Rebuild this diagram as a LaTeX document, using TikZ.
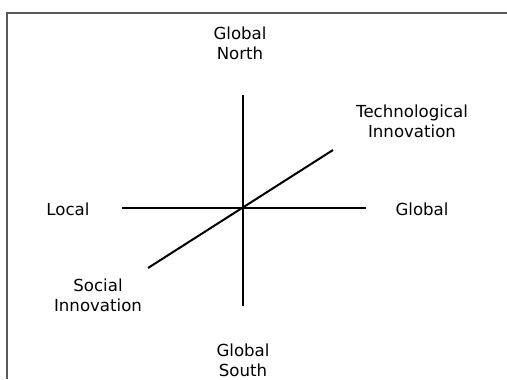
\documentclass[tikz,border=0pt]{standalone}
\usepackage{fontspec}
\setmainfont{DejaVu Sans}
\usepackage{tikz}
\usetikzlibrary{positioning}
\tikzset{
  axislabel/.style={font=\fontsize{8.3}{10}\selectfont,align=center,inner sep=0pt},
  axis/.style={line width=1pt,black},
  frame/.style={line width=0.7pt,gray!70!black}
}

\begin{document}
\begin{tikzpicture}[x=0.5pt,y=-0.5pt]
  \useasboundingbox (0,0) rectangle (507,379);
  % outer frame (top and left edges only)
  \draw[frame] (7,379) -- (7,13) -- (507,13);
  % axis end points
  \coordinate (n) at (243,95);
  \coordinate (s) at (243,306);
  \coordinate (w) at (122,208);
  \coordinate (e) at (366,208);
  \coordinate (sw) at (148,268);
  \coordinate (ne) at (333,150);
  \draw[axis] (n) -- (s);
  \draw[axis] (w) -- (e);
  \draw[axis] (sw) -- (ne);
  % labels
  \node[axislabel] (north)   at (240,43)  {Global\\North};
  \node[axislabel] (south)   at (243,360) {Global\\South};
  \node[axislabel] (local)   at (68,209)  {Local};
  \node[axislabel] (global)  at (422,209) {Global};
  \node[axislabel] (techinn) at (412,121) {Technological\\Innovation};
  \node[axislabel] (socinn)  at (98,295)  {Social\\Innovation};
\end{tikzpicture}
\end{document}
